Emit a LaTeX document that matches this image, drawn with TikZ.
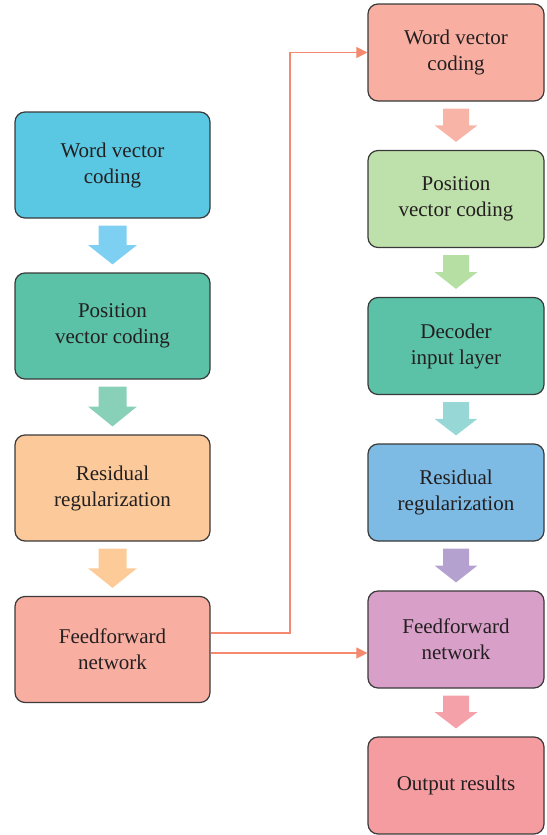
\documentclass[tikz,border=0pt]{standalone}
\usepackage{fontspec}
\setmainfont{Liberation Serif}
\usetikzlibrary{calc,arrows.meta}
\definecolor{txt}{HTML}{231F20}
\definecolor{bord}{HTML}{3A3A3A}
\definecolor{cA}{HTML}{5AC8E2}
\definecolor{aA}{HTML}{7DD0F2}
\definecolor{cB}{HTML}{5BC1A7}
\definecolor{aB}{HTML}{89D0B8}
\definecolor{cC}{HTML}{FCCA9A}
\definecolor{aC}{HTML}{FCCB98}
\definecolor{cD}{HTML}{F8AFA2}
\definecolor{aD}{HTML}{F9B4A8}
\definecolor{cE}{HTML}{BEE0AB}
\definecolor{aE}{HTML}{B6DFA4}
\definecolor{aF}{HTML}{97D7D6}
\definecolor{cG}{HTML}{7DBAE4}
\definecolor{aG}{HTML}{B4A1CF}
\definecolor{cH}{HTML}{D8A0C8}
\definecolor{aH}{HTML}{F5A1AA}
\definecolor{cI}{HTML}{F59CA1}
\definecolor{link}{HTML}{F4896F}
\tikzset{
  box/.style={draw=bord, line width=1.2pt, rounded corners=10pt, align=center,
    text=txt, font=\fontsize{21}{26}\selectfont, inner sep=0pt},
  lbox/.style={box, minimum width=195pt, minimum height=106pt},
  rbox/.style={box, minimum width=176pt, minimum height=97pt},
  linkline/.style={draw=link, line width=1.1pt},
  linkarrow/.style={linkline, -{Triangle[length=11pt,width=11pt]}},
}
% block arrow: #1 from node, #2 to node, #3 colour, #4 shaft half width, #5 head half width
\newcommand\blockarr[5]{%
  \path let \p1=(#1.south), \p2=(#2.north) in
    [fill=#3] (\x1-#4,\y1-7) -- (\x1+#4,\y1-7)
    -- (\x1+#4,{(\y1-7+\y2+8)/2}) -- (\x1+#5,{(\y1-7+\y2+8)/2})
    -- (\x1,\y2+8) -- (\x1-#5,{(\y1-7+\y2+8)/2})
    -- (\x1-#4,{(\y1-7+\y2+8)/2}) -- cycle;}
\begin{document}
\begin{tikzpicture}[x=1pt,y=-1pt]
\useasboundingbox (0,0) rectangle (546,835);
% left column
\node[lbox, fill=cA] (l1) at (112.5,165) {Word vector\\coding};
\node[lbox, fill=cB] (l2) at (112.5,326) {Position\\vector coding};
\node[lbox, fill=cC] (l3) at (112.5,488) {Residual\\regularization};
\node[lbox, fill=cD] (l4) at (112.5,649.5) {Feedforward\\network};
% right column
\node[rbox, fill=cD] (r1) at (456,52.5) {Word vector\\coding};
\node[rbox, fill=cE] (r2) at (456,199) {Position\\vector coding};
\node[rbox, fill=cB] (r3) at (456,346) {Decoder\\input layer};
\node[rbox, fill=cG] (r4) at (456,492.5) {Residual\\regularization};
\node[rbox, fill=cH] (r5) at (456,639.5) {Feedforward\\network};
\node[rbox, fill=cI] (r6) at (456,785.5) {Output results};
% block arrows
\blockarr{l1}{l2}{aA}{14pt}{24.5pt}
\blockarr{l2}{l3}{aB}{14pt}{24.5pt}
\blockarr{l3}{l4}{aC}{14pt}{24.5pt}
\blockarr{r1}{r2}{aD}{13pt}{21.5pt}
\blockarr{r2}{r3}{aE}{13pt}{21.5pt}
\blockarr{r3}{r4}{aF}{13pt}{21.5pt}
\blockarr{r4}{r5}{aG}{13pt}{21.5pt}
\blockarr{r5}{r6}{aH}{13pt}{21.5pt}
% connectors
\coordinate (bend) at (290,633);
\draw[linkarrow] ($(l4.east)+(0,-16.5)$) -- (bend) |- (r1.west);
\draw[linkarrow] ($(l4.east)+(0,3.5)$) -- ($(r5.west)+(0,13.5)$);
\end{tikzpicture}
\end{document}
